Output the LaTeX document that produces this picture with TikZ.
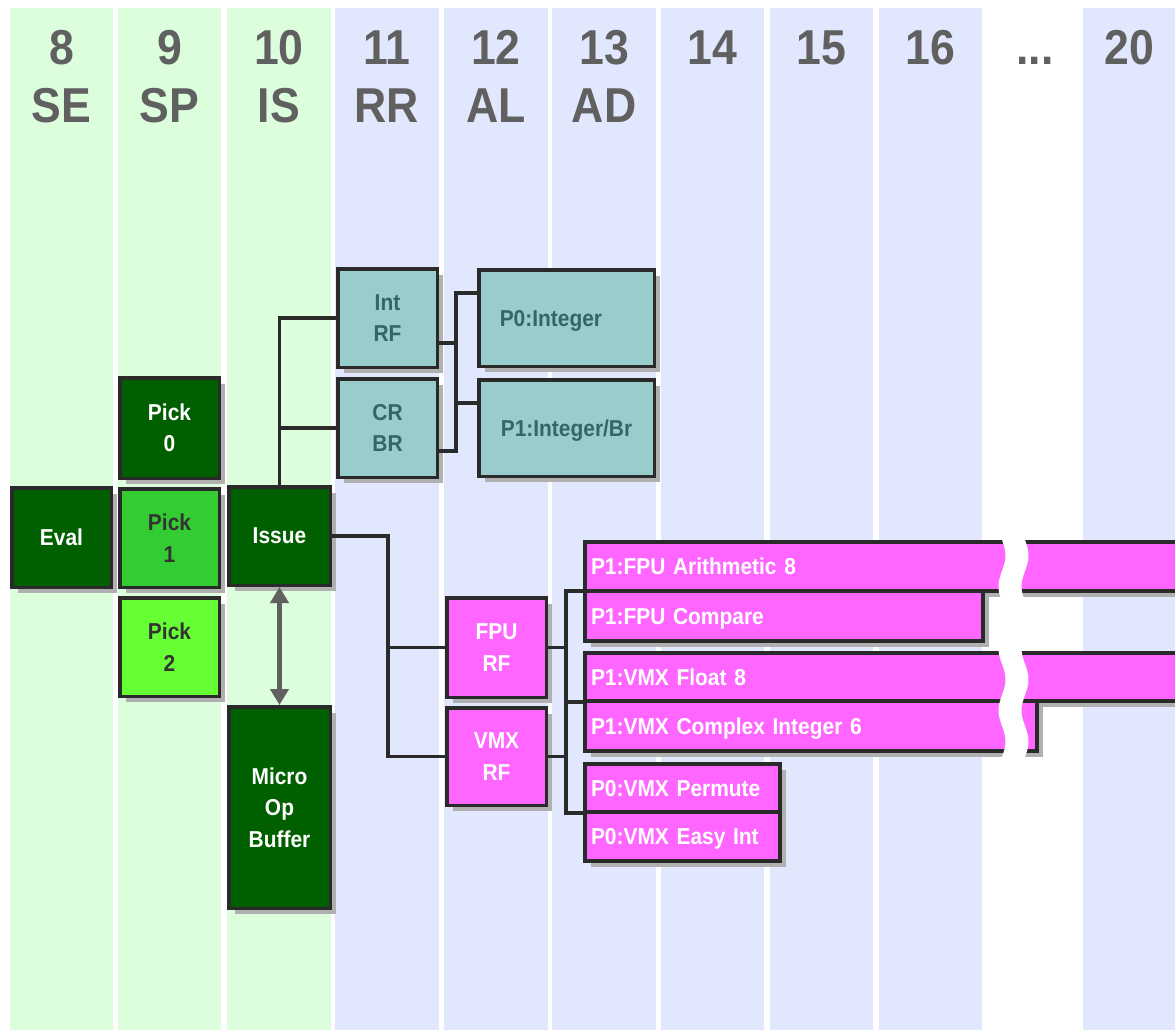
\documentclass[tikz,border=0pt]{standalone}
\usepackage{fontspec}
\newfontfamily\hfont{Liberation Sans}[FakeStretch=0.91]
\usetikzlibrary{arrows.meta,shadows,calc}
\definecolor{stripeg}{RGB}{220,254,220}
\definecolor{stripeb}{RGB}{225,232,253}
\definecolor{dkgreen}{RGB}{0,96,0}
\definecolor{pickone}{RGB}{51,204,51}
\definecolor{picktwo}{RGB}{102,255,51}
\definecolor{tealc}{RGB}{153,204,204}
\definecolor{tealtext}{RGB}{51,102,102}
\definecolor{magc}{RGB}{255,102,255}
\definecolor{edgec}{RGB}{42,42,42}
\definecolor{shadowc}{RGB}{176,176,176}
\definecolor{hdrc}{RGB}{96,96,96}
\definecolor{darktext}{RGB}{51,51,51}
\newcommand\bxfont{\hfont\bfseries\fontsize{23}{31.5}\selectfont}
\newcommand\hdfont{\hfont\bfseries\fontsize{49}{58}\selectfont}
\begin{document}
\begin{tikzpicture}[x=1pt,y=-1pt,
  box/.style={draw=edgec, line width=3.5pt, inner sep=0pt, align=center, font=\bxfont,
    drop shadow={shadow xshift=6pt, shadow yshift=-6pt, fill=shadowc, opacity=1}},
  dk/.style={box, fill=dkgreen, text=white},
  tl/.style={box, fill=tealc, text=tealtext},
  mg/.style={box, fill=magc, text=white},
  oneline/.style={text height=16.5pt, text depth=0pt},
  fu/.style={mg, oneline, align=left, inner xsep=6pt},
  wire/.style={draw=edgec, line width=3.2pt},
  hdr/.style={anchor=base, text=hdrc, font=\hdfont, inner sep=0pt},
  gstripe/.style={fill=stripeg},
  bstripe/.style={fill=stripeb}]
\useasboundingbox (0,0) rectangle (1175,1030);
\fill[white] (0,0) rectangle (1175,1030);
% stripes
\fill[gstripe] (10,8) rectangle (113,1030);
\fill[gstripe] (118,8) rectangle (221,1030);
\fill[gstripe] (227,8) rectangle (331,1030);
\fill[bstripe] (335,8) rectangle (439,1030);
\fill[bstripe] (444,8) rectangle (548,1030);
\fill[bstripe] (552,8) rectangle (656,1030);
\fill[bstripe] (661,8) rectangle (764,1030);
\fill[bstripe] (770,8) rectangle (873,1030);
\fill[bstripe] (879,8) rectangle (982,1030);
\fill[bstripe] (1083,8) rectangle (1175,1030);
% headers
\node[hdr] (h8) at (61.5,65) {8};
\node[hdr] (h8b) at (61.5,123) {SE};
\node[hdr] (h9) at (169.5,65) {9};
\node[hdr] (h9b) at (169.5,123) {SP};
\node[hdr] (h10) at (279,65) {10};
\node[hdr] (h10b) at (279,123) {IS};
\node[hdr] (h11) at (387,65) {11};
\node[hdr] (h11b) at (387,123) {RR};
\node[hdr] (h12) at (496,65) {12};
\node[hdr] (h12b) at (496,123) {AL};
\node[hdr] (h13) at (604,65) {13};
\node[hdr] (h13b) at (604,123) {AD};
\node[hdr] (h14) at (712,65) {14};
\node[hdr] (h15) at (821,65) {15};
\node[hdr] (h16) at (930,65) {16};
\node[hdr] (hdots) at (1035,65) {...};
\node[hdr] (h20) at (1129,65) {20};
% green boxes
\node[dk, minimum width=99.5pt, minimum height=99.5pt] (eval) at (61.5,537.5) {Eval};
\node[dk, minimum width=99.5pt, minimum height=100.5pt] (pick0) at (169.5,428) {Pick\\0};
\node[box, fill=pickone, text=darktext, minimum width=99.5pt, minimum height=98.5pt] (pick1) at (169.5,538) {Pick\\1};
\node[box, fill=picktwo, text=darktext, minimum width=99.5pt, minimum height=98.5pt] (pick2) at (169.5,647) {Pick\\2};
\node[dk, minimum width=101.5pt, minimum height=98.5pt] (issue) at (279.5,536) {Issue};
\node[dk, minimum width=101.5pt, minimum height=201.5pt] (micro) at (279.5,807.5) {Micro\\Op\\Buffer};
% teal boxes
\node[tl, minimum width=99.5pt, minimum height=98.5pt] (intrf) at (387.5,318) {Int\\RF};
\node[tl, minimum width=99.5pt, minimum height=98.5pt] (crbr) at (387.5,428) {CR\\BR};
\node[tl, oneline, minimum width=175.5pt, minimum height=96.5pt, align=left, inner xsep=21pt, text width=133.5pt] (p0) at (566.5,318) {P0:Integer};
\node[tl, oneline, minimum width=175.5pt, minimum height=96.5pt] (p1) at (566.5,428) {P1:Integer/Br};
% magenta register files
\node[mg, minimum width=99.5pt, minimum height=99.5pt] (fpurf) at (496.5,647.5) {FPU\\RF};
\node[mg, minimum width=99.5pt, minimum height=97.5pt] (vmxrf) at (496.5,756.5) {VMX\\RF};
% functional units
\node[fu, minimum width=615pt, minimum height=49pt, text width=603pt] (arith) at (892.5,566.5) {P1:FPU Arithmetic 8};
\node[fu, minimum width=398pt, minimum height=50pt, text width=386pt] (compare) at (784,616) {P1:FPU Compare};
\node[fu, minimum width=615pt, minimum height=48pt, text width=603pt] (float) at (892.5,677) {P1:VMX Float 8};
\node[fu, minimum width=452pt, minimum height=50pt, text width=440pt] (complex) at (811,726) {P1:VMX Complex Integer 6};
\node[fu, minimum width=195pt, minimum height=48pt, text width=183pt] (permute) at (682.5,788) {P0:VMX Permute};
\node[fu, minimum width=195pt, minimum height=49pt, text width=183pt] (easyint) at (682.5,836.5) {P0:VMX Easy Int};
% break
\fill[white] plot[smooth, domain=533:763, samples=50] ({1002+3.5*sin((\x-540)/62*360)},\x)
  -- plot[smooth, domain=763:533, samples=50] ({1025+3.5*sin((\x-540)/62*360)},\x) -- cycle;
% connectors
\coordinate (busA) at (456,0);
\coordinate (busB) at (388,0);
\coordinate (busC) at (566,0);
\draw[wire] (intrf.west) -| (issue.north);
\draw[wire] (issue.north |- crbr.west) -- (crbr.west);
\draw[wire] (p0.west |- 0,293) -| (busA |- 0,451) -- (crbr.east |- 0,451);
\draw[wire] (intrf.east |- 0,343) -- (busA |- 0,343);
\draw[wire] (busA |- 0,403) -- (p1.west |- 0,403);
\draw[wire] (issue.east) -| (busB |- vmxrf.west) -- (vmxrf.west);
\draw[wire] (busB |- fpurf.west) -- (fpurf.west);
\draw[wire] (compare.west |- 0,591) -| (busC |- 0,813) -- (easyint.west |- 0,813);
\draw[wire] (fpurf.east) -- (busC |- fpurf.east);
\draw[wire] (vmxrf.east) -- (busC |- vmxrf.east);
\draw[wire] (busC |- 0,702) -- (complex.west |- 0,702);
% arrow
\draw[line width=5pt, draw=hdrc, {Triangle[width=18pt,length=16pt]}-{Triangle[width=18pt,length=16pt]}] (issue.south) -- (micro.north);
\end{tikzpicture}
\end{document}
